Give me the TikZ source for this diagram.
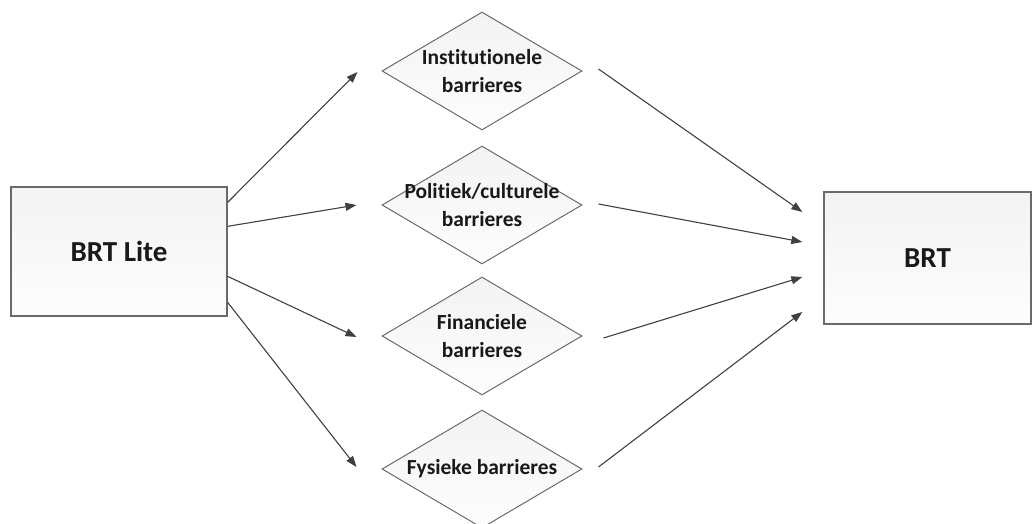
\documentclass[tikz,border=0pt]{standalone}
\usepackage{fontspec}
\setmainfont{Carlito}[Ligatures=NoCommon]
\usetikzlibrary{shapes.geometric,arrows.meta,calc}
\definecolor{edgegray}{HTML}{6A6A6A}
\definecolor{arrgray}{HTML}{404040}
\definecolor{boxtop}{HTML}{F3F3F3}
\definecolor{boxbot}{HTML}{FDFDFD}
\begin{document}
\begin{tikzpicture}[x=1pt,y=-1pt,
  bigbox/.style={draw=edgegray,line width=1.3pt,rectangle,top color=boxtop,bottom color=boxbot,
    font=\fontsize{29}{34}\selectfont\bfseries,text=black!90},
  barrier/.style={draw=edgegray,line width=1pt,diamond,inner sep=0pt,minimum width=200pt,minimum height=118pt,
    top color=boxtop,bottom color=boxbot},
  btext/.style={font=\fontsize{21.5}{28}\selectfont\bfseries,text=black!90,align=center},
  arr/.style={draw=arrgray,line width=1.1pt,-{Triangle[length=11pt,width=8pt]}}]
\useasboundingbox (0,0) rectangle (1036,524);
\begin{scope}
\clip (0,0) rectangle (1036,524);
\node[bigbox,minimum width=216pt,minimum height=129pt] (lite) at (119,251.5) {BRT Lite};
\node[bigbox,minimum width=207pt,minimum height=132pt] (brt) at (927.5,258) {BRT};
\node[barrier] (d1) at (482,71) {};
\node[barrier] (d2) at (482,205) {};
\node[barrier] (d3) at (482,336) {};
\node[barrier] (d4) at (482,469) {};
\node[btext] (t1) at (d1.center) {Institutionele\\barrieres};
\node[btext] (t2) at (d2.center) {Politiek/culturele\\barrieres};
\node[btext] (t3) at (d3.center) {Financiele\\barrieres};
\node[btext] (t4) at (d4.center) {Fysieke barrieres};
\end{scope}
% from BRT Lite to barriers
\draw[arr] ($(lite.north east)+(0,16)$) -- ($(d1.west)+(-24,1)$);
\draw[arr] ($(lite.north east)+(0,40)$) -- ($(d2.west)+(-25,0)$);
\draw[arr] ($(lite.north east)+(0,90)$) -- ($(d3.west)+(-25,1)$);
\draw[arr] ($(lite.north east)+(0,116)$) -- ($(d4.west)+(-25,-2)$);
% from barriers to BRT
\draw[arr] ($(d1.east)+(16,-2)$) -- ($(brt.west)+(-21,-46)$);
\draw[arr] ($(d2.east)+(16,-1)$) -- ($(brt.west)+(-21,-16)$);
\draw[arr] ($(d3.east)+(21,2)$) -- ($(brt.west)+(-21,19)$);
\draw[arr] ($(d4.east)+(16,-2)$) -- ($(brt.west)+(-21,54)$);
\end{tikzpicture}
\end{document}
